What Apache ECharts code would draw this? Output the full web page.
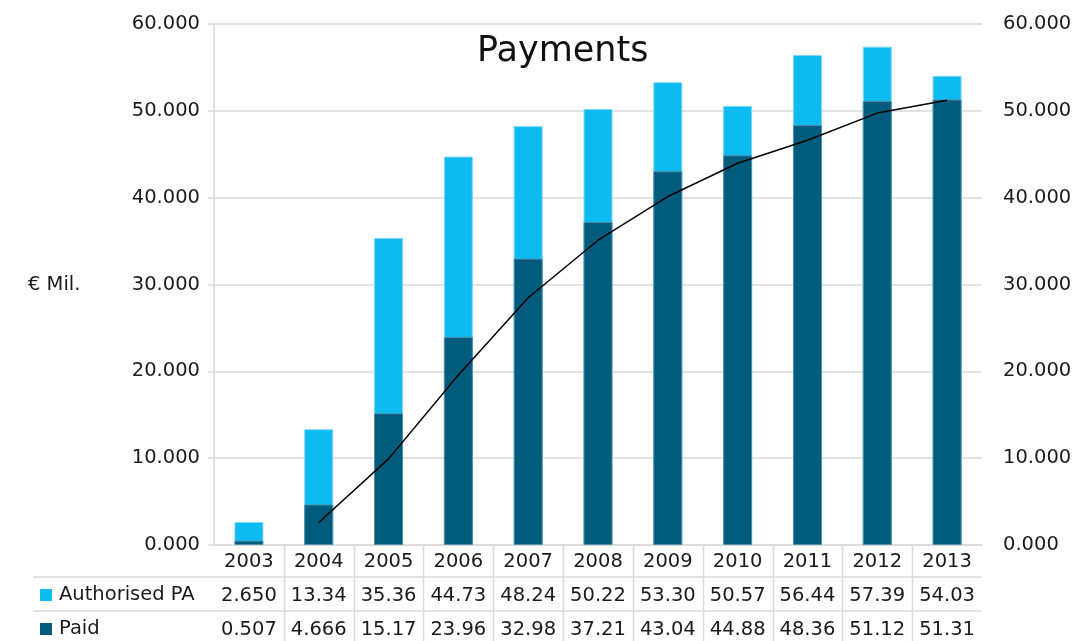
<!DOCTYPE html>
<html>
<head>
<meta charset="utf-8">
<title>Payments</title>
<script src="https://cdn.jsdelivr.net/npm/echarts@6/dist/echarts.min.js"></script>
<style>
  html, body { margin: 0; padding: 0; background: #ffffff; }
  #chart { width: 1082px; height: 641px; }
</style>
</head>
<body>
<div id="chart"></div>
<script>
// Payment figures, € million
const years = ['2003', '2004', '2005', '2006', '2007', '2008', '2009', '2010', '2011', '2012', '2013'];
const authorisedPA = [2.650, 13.34, 35.36, 44.73, 48.24, 50.22, 53.30, 50.57, 56.44, 57.39, 54.03];
const paid = [0.507, 4.666, 15.17, 23.96, 32.98, 37.21, 43.04, 44.88, 48.36, 51.12, 51.31];
// Trend line of paid amounts (two-period moving average)
const paidTrend = [null, 2.59, 9.92, 19.57, 28.47, 35.10, 40.13, 43.96, 46.62, 49.74, 51.22];
const yTicks = [0, 10, 20, 30, 40, 50, 60];

const FONT = '"DejaVu Sans", "Noto Sans", sans-serif';
const FS = 19.5;
const GRID_COLOR = '#d9d9d9';
const TEXT = '#1a1a1a';
const LIGHT = '#0dbbf0';
const DARK = '#005b7c';

// Table cells show four significant figures
function fmt(v) {
  return v < 1 ? v.toFixed(3) : v.toPrecision(4);
}

const gridLeft = 214, gridRight = 982, gridTop = 24, gridBottom = 545;
const W = 1082, H = 641;

const chart = echarts.init(document.getElementById('chart'), null, { renderer: 'canvas' });

// Data-table gridlines under the category axis
const tableLines = [];
const cellW = (gridRight - gridLeft) / years.length;
for (let i = 1; i < years.length; i++) {
  const x = Math.round(gridLeft + i * cellW) + 0.5;
  tableLines.push({ type: 'line', shape: { x1: x, y1: gridBottom, x2: x, y2: H }, style: { stroke: GRID_COLOR, lineWidth: 1.5 }, silent: true });
}
[577, 611].forEach(y => {
  tableLines.push({ type: 'line', shape: { x1: 33, y1: y, x2: gridRight, y2: y }, style: { stroke: GRID_COLOR, lineWidth: 1.5 }, silent: true });
});

const valueAxisLabel = v => v.toFixed(3);

function tableAxis(values, offset) {
  return {
    type: 'category',
    gridIndex: 0,
    position: 'bottom',
    offset: offset,
    data: years,
    axisLine: { show: false },
    axisTick: { show: false },
    splitLine: { show: false },
    axisLabel: {
      interval: 0,
      margin: 7,
      fontFamily: FONT,
      fontSize: FS,
      color: TEXT,
      formatter: (val, idx) => fmt(values[idx])
    }
  };
}

function legendRow(name, top) {
  return {
    orient: 'horizontal',
    left: 40,
    top: top,
    itemWidth: 12,
    itemHeight: 12,
    itemGap: 0,
    icon: 'rect',
    padding: 0,
    data: [name],
    itemStyle: { borderWidth: 0 },
    textStyle: { fontFamily: FONT, fontSize: FS, color: TEXT, padding: [0, 0, 0, 2] }
  };
}

chart.setOption({
  animation: false,
  backgroundColor: '#ffffff',
  title: {
    text: 'Payments',
    left: 472,
    top: 29,
    textStyle: { fontFamily: FONT, fontSize: 35, fontWeight: 'normal', color: '#111111' }
  },
  legend: [legendRow('Authorised PA', 585), legendRow('Paid', 619)],
  grid: {
    left: gridLeft,
    right: W - gridRight,
    top: gridTop,
    bottom: H - gridBottom,
    containLabel: false
  },
  xAxis: [
    {
      type: 'category',
      data: years,
      axisLine: { show: true, lineStyle: { color: GRID_COLOR, width: 1.5 } },
      axisTick: { show: false },
      axisLabel: { interval: 0, margin: 7, fontFamily: FONT, fontSize: FS, color: TEXT }
    },
    tableAxis(authorisedPA, 34),
    tableAxis(paid, 68)
  ],
  yAxis: [
    {
      type: 'value',
      min: yTicks[0],
      max: yTicks[yTicks.length - 1],
      interval: 10,
      axisLine: { show: true, lineStyle: { color: GRID_COLOR, width: 1.5 } },
      axisTick: { show: true, length: 6, lineStyle: { color: GRID_COLOR, width: 1.5 } },
      splitLine: { show: true, lineStyle: { color: GRID_COLOR, width: 1.5 } },
      axisLabel: { margin: 14, fontFamily: FONT, fontSize: FS, color: TEXT, formatter: valueAxisLabel }
    },
    {
      type: 'value',
      min: yTicks[0],
      max: yTicks[yTicks.length - 1],
      interval: 10,
      position: 'right',
      axisLine: { show: false },
      axisTick: { show: false },
      splitLine: { show: false },
      axisLabel: { margin: 21, fontFamily: FONT, fontSize: FS, color: TEXT, formatter: valueAxisLabel }
    }
  ],
  series: [
    {
      name: 'Authorised PA',
      type: 'bar',
      xAxisIndex: 0,
      yAxisIndex: 0,
      data: authorisedPA,
      barWidth: 29,
      itemStyle: { color: LIGHT, borderColor: '#7fd6f5', borderWidth: 1 }
    },
    {
      name: 'Paid',
      type: 'bar',
      xAxisIndex: 0,
      yAxisIndex: 0,
      data: paid,
      barWidth: 29,
      barGap: '-100%',
      itemStyle: { color: DARK, borderColor: '#4f8fa8', borderWidth: 1 }
    },
    {
      name: 'Trend',
      type: 'line',
      xAxisIndex: 0,
      yAxisIndex: 1,
      data: paidTrend,
      symbol: 'none',
      smooth: false,
      lineStyle: { color: '#000000', width: 1.5 },
      z: 5
    }
  ],
  graphic: tableLines.concat([
    {
      type: 'text',
      left: 28,
      top: 275,
      style: { text: '€ Mil.', fontFamily: FONT, fontSize: FS, fill: TEXT },
      silent: true
    }
  ])
});
</script>
</body>
</html>
